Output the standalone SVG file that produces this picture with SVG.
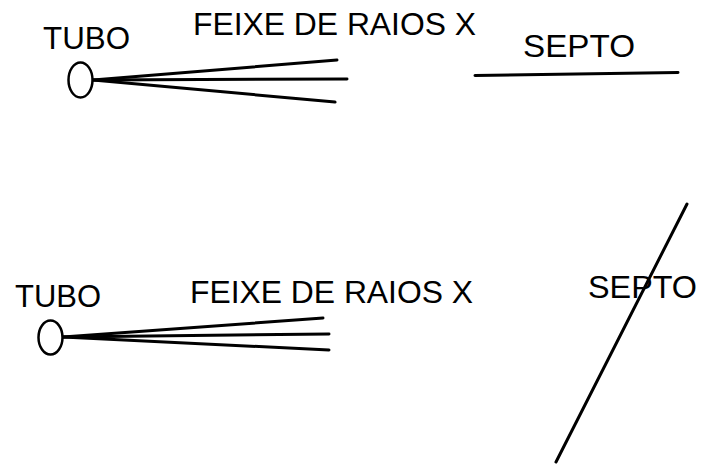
<svg xmlns="http://www.w3.org/2000/svg" width="703" height="468" viewBox="0 0 703 468">
<style>
.t{font-family:"Liberation Sans",Arial,sans-serif;font-size:32px;fill:#000}
.s{stroke:#000;stroke-width:3;fill:none;stroke-linecap:round}
.tube{stroke:#000;stroke-width:2.5;fill:#fff}
</style>
<rect width="703" height="468" fill="#fff"/>
<g id="connectors">
<line class="s" x1="93" y1="80" x2="337" y2="60"/>
<line class="s" x1="93" y1="80" x2="347" y2="79"/>
<line class="s" x1="93" y1="80" x2="335" y2="102"/>
<line class="s" x1="63" y1="337" x2="323" y2="318"/>
<line class="s" x1="63" y1="337" x2="329" y2="334"/>
<line class="s" x1="63" y1="337" x2="329" y2="350"/>
</g>
<g id="tubo1">
<ellipse class="tube" cx="80.5" cy="80" rx="12" ry="17.5"/>
<text class="t" x="43" y="49" textLength="87" lengthAdjust="spacingAndGlyphs">TUBO</text>
</g>
<g id="feixe1">
<text class="t" x="193" y="35" textLength="283" lengthAdjust="spacingAndGlyphs">FEIXE DE RAIOS X</text>
</g>
<g id="septo1">
<line class="s" x1="475" y1="75.5" x2="678" y2="72.5"/>
<text class="t" x="523" y="57" textLength="112" lengthAdjust="spacingAndGlyphs">SEPTO</text>
</g>
<g id="tubo2">
<ellipse class="tube" cx="50.5" cy="337.5" rx="12" ry="17"/>
<text class="t" x="15" y="307" textLength="86" lengthAdjust="spacingAndGlyphs">TUBO</text>
</g>
<g id="feixe2">
<text class="t" x="190" y="303" textLength="283" lengthAdjust="spacingAndGlyphs">FEIXE DE RAIOS X</text>
</g>
<g id="septo2">
<text class="t" x="588" y="298" textLength="109" lengthAdjust="spacingAndGlyphs">SEPTO</text>
<line class="s" x1="687" y1="204" x2="556" y2="462"/>
</g>
</svg>
